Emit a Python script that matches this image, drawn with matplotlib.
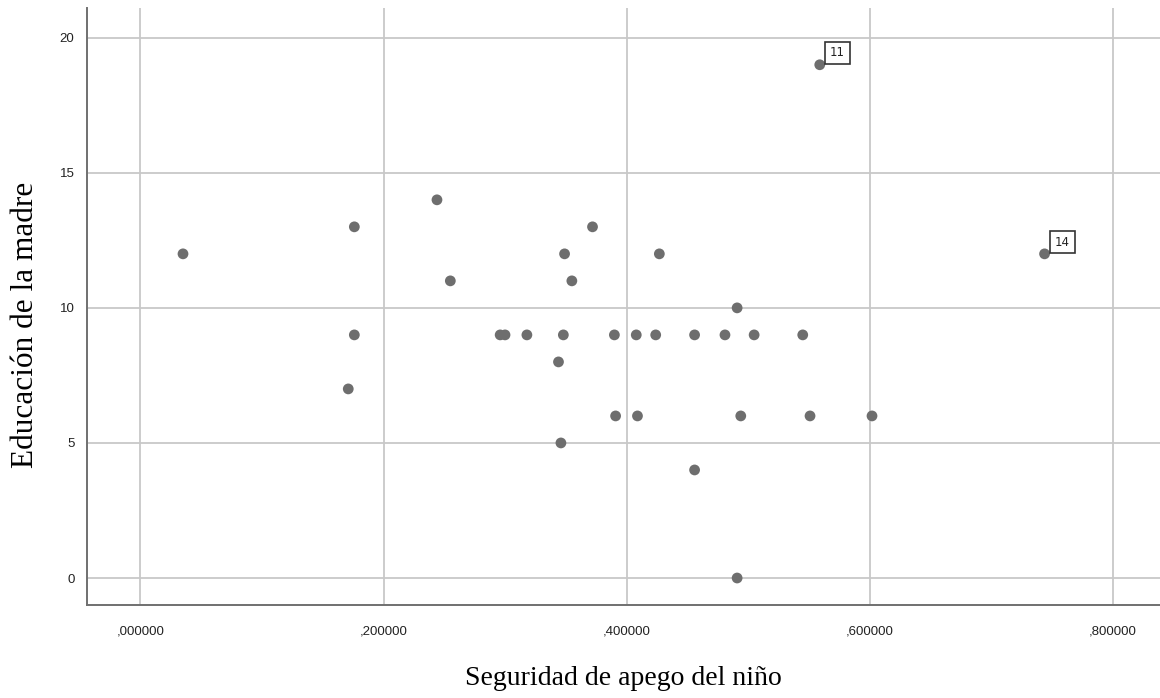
import matplotlib.pyplot as plt
import matplotlib.ticker as mticker

# data
seguridad = [0.035, 0.176, 0.176, 0.171, 0.244, 0.255, 0.296, 0.300, 0.318,
             0.344, 0.349, 0.348, 0.346, 0.355, 0.372, 0.390, 0.408, 0.424,
             0.456, 0.481, 0.505, 0.545, 0.391, 0.409, 0.494, 0.551, 0.602,
             0.427, 0.491, 0.456, 0.491, 0.559, 0.744]
educacion = [12, 13, 9, 7, 14, 11, 9, 9, 9,
             8, 12, 9, 5, 11, 13, 9, 9, 9,
             9, 9, 9, 9, 6, 6, 6, 6, 6,
             12, 10, 4, 0, 19, 12]
etiquetas = {31: '11', 32: '14'}   # index -> case label

x_ticks = [0.0, 0.2, 0.4, 0.6, 0.8]
y_ticks = [0, 5, 10, 15, 20]

fig = plt.figure(figsize=(11.6, 6.98), dpi=100)
ax = fig.add_axes([0.075, 0.1332, 0.925, 0.8553])

ax.scatter(seguridad, educacion, s=60, color='#6e6e6e', edgecolors='none', zorder=3)

for i, lab in etiquetas.items():
    ax.annotate(lab, (seguridad[i], educacion[i]), xytext=(7.5, 3.8), textcoords='offset points',
                ha='left', va='bottom', fontsize=8.5, family='DejaVu Sans', color='#222222',
                bbox=dict(boxstyle='square,pad=0.4', fc='white', ec='#333333', lw=1.2), zorder=4)

ax.set_xlim(-0.044, 0.839)
ax.set_ylim(-1.0, 21.1)
ax.set_xticks(x_ticks)
ax.set_yticks(y_ticks)
ax.xaxis.set_major_formatter(mticker.FuncFormatter(lambda v, p: ('%.6f' % v).lstrip('0').replace('.', ',')))
ax.tick_params(length=0, labelsize=9.5, colors='#222222')
for t in ax.get_xticklabels() + ax.get_yticklabels():
    t.set_family('Liberation Sans')
ax.tick_params(axis='x', pad=15)
ax.tick_params(axis='y', pad=9)
ax.grid(True, color='#c8c8c8', lw=1.3)
ax.set_axisbelow(True)

for s in ['top', 'right']:
    ax.spines[s].set_visible(False)
for s in ['left', 'bottom']:
    ax.spines[s].set_color('#707070')
    ax.spines[s].set_linewidth(1.4)

ax.set_xlabel('Seguridad de apego del niño', family='Liberation Serif', fontsize=20, labelpad=20)
fig.text(0.022, 0.534, 'Educación de la madre', family='Liberation Serif', fontsize=22.5,
         rotation=90, ha='center', va='center')

fig.savefig('out.png', dpi=100)
